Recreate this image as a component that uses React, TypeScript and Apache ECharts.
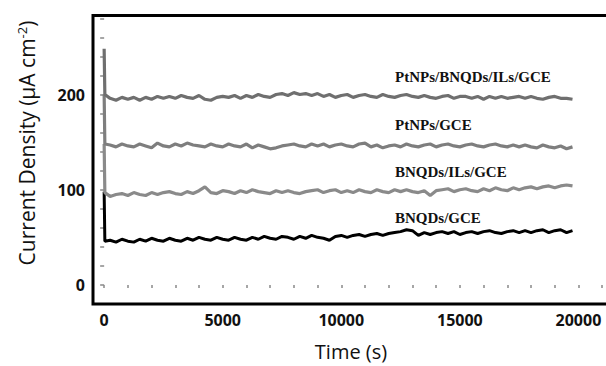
import React, { useEffect, useRef } from "react";
import * as echarts from "echarts";

// ---- data ----
const SERIES_NAMES = ["PtNPs/BNQDs/ILs/GCE", "PtNPs/GCE", "BNQDs/ILs/GCE", "BNQDs/GCE"];
const SAMPLE_STEP = 250; // s, sampling interval of the noisy traces
// initial spike: [time, value] pairs before the regular sampling starts
const START_TOP = [[0, 248], [30, 200]];
const START_PT = [[0, 200], [30, 148]];
const START_ILS = [[0, 148], [30, 97]];
const START_BN = [[0, 98], [30, 46]];
// values at t = 250, 500, ... 19750 s
const TOP_VALUES = [
  196, 194, 197, 195, 197, 194, 197, 195, 198, 196,
  198, 196, 199, 197, 196, 199, 195, 194, 197, 198,
  197, 199, 196, 199, 197, 200, 198, 197, 200, 201,
  199, 202, 200, 201, 199, 201, 198, 200, 197, 199,
  200, 197, 199, 200, 198, 197, 200, 198, 197, 199,
  200, 198, 197, 199, 197, 196, 198, 199, 196, 198,
  198, 196, 198, 195, 198, 196, 198, 196, 197, 198,
  196, 198, 196, 195, 197, 198, 196, 196, 195,
];
const PT_VALUES = [
  147, 145, 148, 146, 145, 148, 146, 144, 149, 146,
  145, 148, 146, 149, 147, 146, 145, 148, 146, 145,
  148, 146, 145, 148, 144, 147, 145, 143, 144, 146,
  147, 148, 146, 145, 148, 146, 148, 145, 147, 148,
  146, 145, 148, 149, 145, 147, 144, 146, 147, 145,
  148, 146, 145, 147, 148, 145, 147, 148, 146, 145,
  147, 148, 146, 145, 147, 148, 146, 145, 147, 145,
  147, 145, 144, 147, 145, 144, 146, 143, 145,
];
const ILS_VALUES = [
  93, 95, 96, 94, 97, 95, 94, 97, 95, 97,
  98, 96, 95, 98, 96, 99, 103, 97, 96, 99,
  98, 96, 99, 97, 100, 98, 97, 96, 99, 97,
  99, 97, 96, 98, 99, 100, 97, 99, 100, 97,
  99, 97, 100, 98, 97, 100, 98, 97, 100, 98,
  100, 98, 97, 99, 94, 99, 100, 101, 98, 100,
  101, 99, 98, 101, 99, 102, 100, 99, 102, 100,
  102, 103, 101, 103, 104, 102, 104, 105, 104,
];
const BN_VALUES = [
  47, 45, 48, 46, 45, 48, 46, 49, 47, 46,
  49, 47, 46, 49, 47, 50, 48, 47, 50, 48,
  47, 50, 48, 47, 50, 48, 51, 49, 48, 51,
  50, 48, 51, 49, 52, 50, 49, 47, 51, 52,
  50, 52, 53, 51, 53, 54, 52, 54, 55, 56,
  58, 57, 52, 55, 53, 55, 56, 54, 56, 53,
  55, 56, 54, 56, 57, 55, 54, 56, 57, 55,
  57, 55, 57, 58, 55, 57, 58, 55, 57,
];
const X_TICKS = [0, 1000, 2000, 3000, 4000, 5000, 6000, 7000, 8000, 9000, 10000, 11000, 12000, 13000, 14000, 15000, 16000, 17000, 18000, 19000, 20000, 21000];
const X_LABELS = [0, 5000, 10000, 15000, 20000];
const Y_TICKS = [0, 20, 40, 60, 80, 100, 120, 140, 160, 180, 200, 220, 240, 260, 280];
const Y_LABELS = [0, 100, 200];

function build(start: number[][], values: number[]) {
  return start.concat(values.map((v, i) => [(i + 1) * SAMPLE_STEP, v]));
}

export default function App() {
  const ref = useRef<HTMLDivElement>(null);
  useEffect(() => {
    const chart = echarts.init(ref.current!, null, { renderer: "svg" });
    const colors = ["#6f6f6f", "#7e7e7e", "#8a8a8a", "#000000"];
    const widths = [3.2, 3.2, 3.2, 3];
    const datas = [
      build(START_TOP, TOP_VALUES),
      build(START_PT, PT_VALUES),
      build(START_ILS, ILS_VALUES),
      build(START_BN, BN_VALUES),
    ];
    const labelY = [78, 126, 173, 219];
    chart.setOption({
      animation: false,
      grid: { left: 93, top: 15.5, right: -8, bottom: 62, show: true, borderColor: "#000", borderWidth: 3, outerBoundsMode: "none" },
      xAxis: {
        type: "value", min: -470, max: 21500,
        axisLine: { show: false },
        splitLine: { show: false },
        axisTick: { show: true, customValues: X_TICKS, length: 3, lineStyle: { color: "#888", width: 1.5 } },
        axisLabel: { customValues: X_LABELS, margin: 8, formatter: (v: number) => String(v), fontFamily: "Open Sans", fontWeight: 700, fontSize: 16, color: "#111" },
      },
      yAxis: {
        type: "value", min: -20, max: 283,
        axisLine: { show: false },
        splitLine: { show: false },
        axisTick: { show: true, customValues: Y_TICKS, length: 4, lineStyle: { color: "#888", width: 1.5 } },
        axisLabel: { customValues: Y_LABELS, margin: 8, formatter: (v: number) => String(v), fontFamily: "Open Sans", fontWeight: 700, fontSize: 16, color: "#111" },
      },
      series: datas.map((d, i) => ({
        type: "line", name: SERIES_NAMES[i], data: d, showSymbol: false, symbol: "none",
        lineStyle: { color: colors[i], width: widths[i] }, z: 10 - i,
      })),
      graphic: [
        ...SERIES_NAMES.map((n, i) => ({
          type: "text", left: 395, top: labelY[i] - 9,
          style: { text: n, font: "bold 15px 'Liberation Serif'", fill: "#111" },
        })),
        {
          type: "text", x: 351, y: 351,
          style: { text: "Time (s)", font: "20px 'Open Sans'", fill: "#111", align: "center", verticalAlign: "middle" },
        },
        {
          type: "text", x: 27, y: 143, rotation: Math.PI / 2,
          style: {
            text: "Current Density (μA cm{sup|-2})",
            font: "21px 'Open Sans'", fill: "#111", align: "center", verticalAlign: "middle",
            rich: { sup: { fontSize: 13, fontFamily: "Open Sans", fill: "#111", padding: [0, 0, 10, 0] } },
          },
        },
      ],
    });
    return () => chart.dispose();
  }, []);
  return <div ref={ref} style={{ position: "fixed", left: 0, top: 0, width: 606, height: 366, background: "#fff" }} />;
}
